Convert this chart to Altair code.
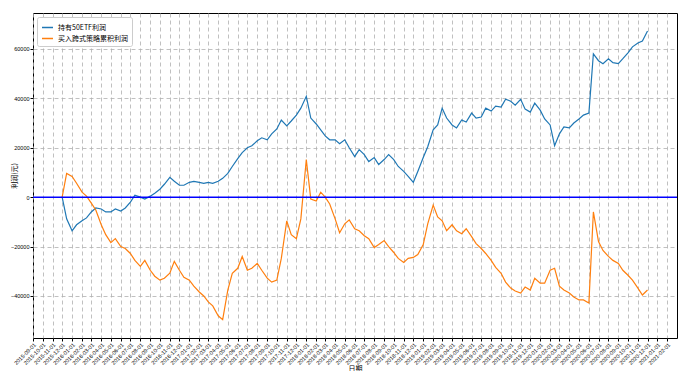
import altair as alt
import pandas as pd

# semi-monthly observation dates (1st and 15th), Dec 2015 .. Dec 2020
dates = pd.date_range("2015-12-01", periods=121, freq="SMS")

etf_profit = [
    0, -8800, -13600, -11200, -9600, -8400, -6000, -4400, -4800, -6000,
    -6000, -4800, -5600, -4400, -2000, 800, 0, -800, 400, 1600,
    3200, 5200, 8000, 6400, 4800, 4800, 6000, 6400, 6000, 5600,
    6000, 5600, 6400, 7600, 9600, 12400, 15600, 18000, 20000, 20800,
    22800, 24000, 23200, 25600, 27600, 31200, 28800, 30800, 33200, 36000,
    40800, 32000, 29600, 27200, 24800, 23200, 23200, 21600, 23200, 20000,
    16400, 19200, 17200, 14400, 16000, 13200, 15200, 17200, 15200, 12400,
    10400, 8400, 6000, 10400, 16000, 20400, 27200, 29200, 36000, 32000,
    29200, 28000, 31200, 30400, 34000, 32000, 32400, 36000, 34800, 36800,
    36400, 39600, 38800, 37200, 39600, 35600, 34400, 38000, 35200, 31600,
    29200, 20800, 25600, 28400, 28000, 30000, 31600, 33200, 34000, 58000,
    55200, 54000, 56000, 54400, 54000, 56000, 58400, 60800, 62400, 63200,
    67200,
]

straddle_profit = [
    0, 9600, 8400, 5600, 2000, 400, -2400, -5200, -11200, -15200,
    -18400, -16800, -20000, -20800, -22800, -25600, -28000, -25600, -29600, -32000,
    -33600, -32800, -30800, -26000, -29600, -32400, -33600, -36000, -38400, -40000,
    -42400, -44000, -48000, -49600, -37600, -30800, -28800, -24000, -29600, -28800,
    -26800, -29600, -32800, -34400, -33600, -24800, -9600, -15200, -16800, -8800,
    15200, -800, -1600, 2000, 0, -2800, -8800, -14400, -10800, -9200,
    -12800, -13600, -15600, -16800, -20400, -19200, -17600, -20000, -22400, -24800,
    -26400, -24800, -24400, -23200, -19200, -10800, -3200, -8000, -9600, -13600,
    -11200, -13600, -14800, -12800, -16000, -18800, -20800, -22800, -25600, -28400,
    -30800, -34400, -36800, -38000, -38800, -36400, -37600, -32800, -34800, -34800,
    -29600, -28800, -36000, -37600, -38800, -40400, -41600, -41600, -42800, -6000,
    -18000, -21600, -24000, -25600, -26800, -29600, -31600, -33600, -36800, -39600,
    -37600,
]

series_names = ["持有50ETF利润", "买入跨式策略累积利润"]
series_colors = ["#1f77b4", "#ff7f0e"]

y_ticks = [-40000, -20000, 0, 20000, 40000, 60000]
x_tick_dates = pd.date_range("2015-09-01", "2021-02-01", freq="MS")

df_etf = pd.DataFrame({"date": dates, "profit": etf_profit, "series": series_names[0]})
df_str = pd.DataFrame({"date": dates, "profit": straddle_profit, "series": series_names[1]})
df_zero = pd.DataFrame({"y": [0]})

x_values = [alt.DateTime(year=d.year, month=d.month, date=1) for d in x_tick_dates]

x_enc = alt.X(
    "date:T",
    scale=alt.Scale(
        domain=[alt.DateTime(year=2015, month=9, date=1), alt.DateTime(year=2021, month=3, date=3)],
        nice=False,
    ),
    axis=alt.Axis(
        values=x_values,
        format="%Y-%m-%d",
        labelAngle=-45,
        labelAlign="right",
        labelBaseline="top",
        labelFontSize=5.5,
        labelOverlap=False,
        labelPadding=1,
        title="日期",
        titleFontSize=7,
        titleY=26,
        titleBaseline="top",
    ),
)
y_enc = alt.Y(
    "profit:Q",
    scale=alt.Scale(domain=[-57000, 74500], nice=False, zero=False),
    axis=alt.Axis(
        values=y_ticks,
        format="d",
        labelFontSize=5.5,
        labelPadding=1,
        title="利润(元)",
        titleFontSize=7,
        titleAngle=-90,
        titleX=-23,
        titleBaseline="top",
    ),
)
color_enc = alt.Color(
    "series:N",
    scale=alt.Scale(domain=series_names, range=series_colors),
    legend=alt.Legend(
        title=None,
        orient="none",
        legendX=4,
        legendY=4,
        symbolType="stroke",
        symbolStrokeWidth=1.5,
        symbolSize=120,
        labelFontSize=7,
        labelFont="Noto Sans CJK SC",
        rowPadding=1,
        padding=4,
        strokeColor="#cccccc",
        fillColor="white",
        cornerRadius=2,
    ),
)

line_etf = alt.Chart(df_etf).mark_line(strokeWidth=1.2).encode(x=x_enc, y=y_enc, color=color_enc)
line_str = alt.Chart(df_str).mark_line(strokeWidth=1.2).encode(x=x_enc, y=y_enc, color=color_enc)
zero = alt.Chart(df_zero).mark_rule(color="#0000ff", strokeWidth=1.5).encode(y="y:Q")

chart = (
    alt.layer(line_etf, line_str, zero)
    .properties(
        width=644,
        height=325,
        autosize=alt.AutoSizeParams(type="none"),
        padding={"left": 25, "top": 5, "right": 10, "bottom": 33},
    )
    .configure(font="Noto Sans CJK SC")
    .configure_view(stroke="black", strokeWidth=1)
    .configure_axis(
        grid=True,
        gridDash=[4, 3],
        gridColor="#b0b0b0",
        gridWidth=0.8,
        domain=False,
        tickColor="black",
        tickSize=3,
        labelColor="black",
        titleColor="black",
        titleFontWeight="normal",
        labelFont="Liberation Sans",
        titleFont="Noto Sans CJK SC",
    )
)

chart.save("out.html", embed_options={"renderer": "svg", "actions": False})
